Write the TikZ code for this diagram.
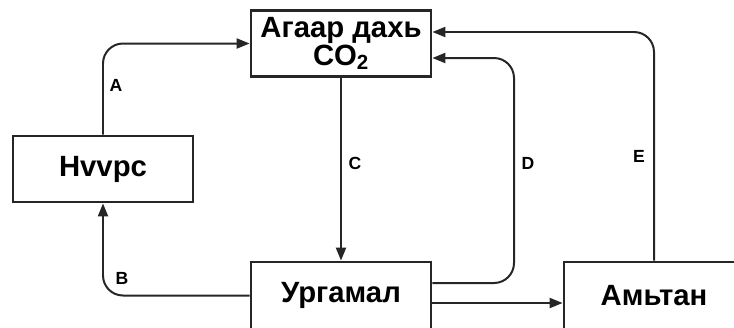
\documentclass[tikz,border=0pt]{standalone}
\usepackage{fontspec}
\setmainfont{Liberation Sans}
\usetikzlibrary{arrows.meta}

\begin{document}
\begin{tikzpicture}[x=0.03cm,y=-0.03cm,
  box/.style={draw=black!85,line width=2.4pt,minimum width=5.4cm,minimum height=1.98cm,inner sep=0pt,align=center,font=\bfseries\fontsize{25}{21}\selectfont},
  flow/.style={draw=black!85,line width=1.7pt,rounded corners=0.6cm,-{Triangle[length=11pt,width=8.5pt]}},
  lbl/.style={inner sep=0pt,font=\bfseries\fontsize{15}{17}\selectfont}]
\clip (0,0) rectangle (734,327);
\node[box] (co2) at (341,43.5) {Агаар дахь\\CO\textsubscript{2}};
\node[box] (huur) at (103,169) {Hvvpc};
\node[box,minimum height=2.01cm] (urg) at (341,295.5) {Ургамал};
\node[box,minimum height=2.01cm] (amt) at (654,295.5) {Амьтан};
\coordinate (dtop) at (514,58);
\draw[flow] (huur.north) |- (co2.west);
\draw[flow] (urg.west) -| (huur.south);
\draw[flow] (co2.south) -- (urg.north);
\draw[flow] ([yshift=0.375cm]urg.east) -| (dtop) -- ([yshift=-0.435cm]co2.east);
\draw[flow] (amt.north) |- ([yshift=0.345cm]co2.east);
\draw[flow] ([yshift=-0.225cm]urg.east) -- ([yshift=-0.225cm]amt.west);
\node[lbl] (la) at (116,85) {A};
\node[lbl] (lb) at (122,278) {B};
\node[lbl] (lc) at (355,163) {C};
\node[lbl] (ld) at (528,163) {D};
\node[lbl] (le) at (639,156) {E};
\end{tikzpicture}
\end{document}
